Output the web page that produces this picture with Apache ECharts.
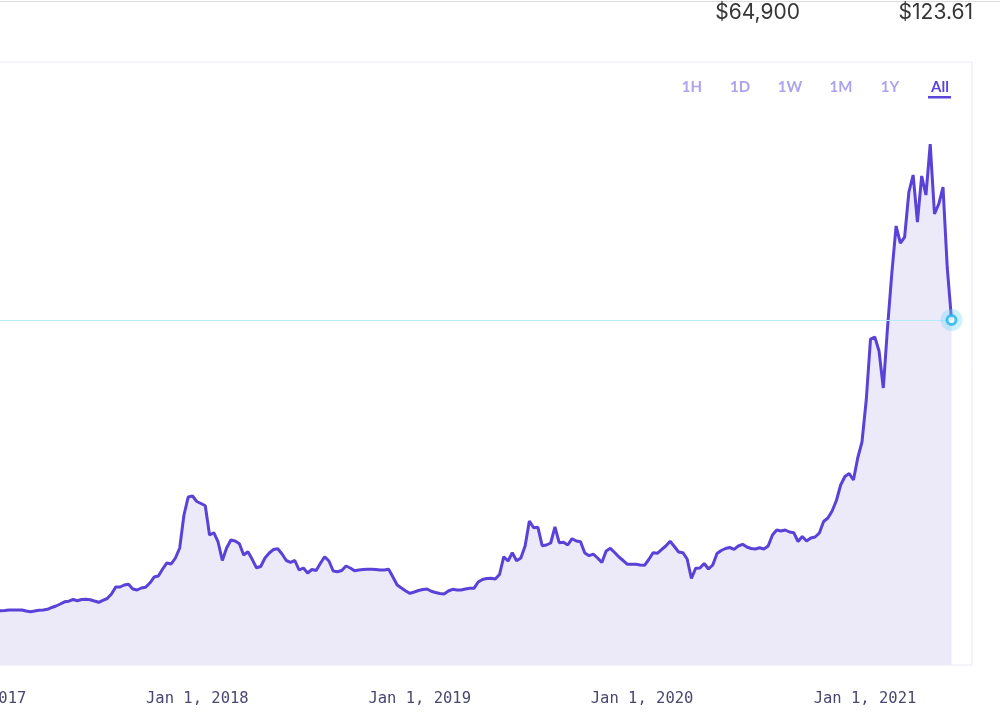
<!DOCTYPE html>
<html>
<head>
<meta charset="utf-8">
<title>Price chart</title>
<script src="https://cdn.jsdelivr.net/npm/echarts@6/dist/echarts.min.js"></script>
<style>
  html, body { margin: 0; padding: 0; background: #fff; overflow: hidden; }
  /* the chart starts left of the window, like the cropped screenshot */
  #chart { position: absolute; left: -60px; top: 0; width: 1060px; height: 727px; }
</style>
</head>
<body>
<div id="chart"></div>
<script>
// weekly closes, last week ends May 23, 2021
const lastWeek = "2021-05-23";
const prices = [
  19.34, 19.34, 19.70, 19.34, 19.70, 19.34, 19.70, 19.45, 19.52, 19.70,
  19.70, 19.70, 19.70, 19.34, 19.09, 19.34, 19.59, 19.70, 19.95, 20.60,
  21.13, 21.85, 22.64, 22.85, 23.46, 23.03, 23.46, 23.53, 23.39, 22.92,
  22.46, 23.18, 23.82, 25.43, 27.94, 27.94, 28.66, 28.91, 27.22, 26.87,
  27.58, 27.83, 29.37, 31.52, 31.88, 34.39, 36.54, 36.18, 38.33, 41.91,
  53.73, 60.18, 60.54, 58.57, 57.85, 57.06, 46.57, 47.39, 44.06, 37.43,
  41.91, 44.78, 44.42, 43.45, 39.40, 40.58, 37.86, 34.85, 35.28, 38.33,
  40.12, 41.37, 41.66, 39.76, 37.43, 36.79, 37.43, 34.03, 34.75, 32.95,
  34.21, 33.85, 36.43, 38.79, 37.25, 33.67, 33.42, 33.85, 35.46, 34.75,
  33.78, 34.03, 34.21, 34.28, 34.28, 34.21, 34.03, 34.03, 34.28, 31.52,
  28.66, 27.58, 26.51, 25.68, 26.15, 26.69, 27.04, 27.22, 26.40, 25.97,
  25.61, 25.43, 26.51, 27.12, 26.87, 26.87, 27.22, 27.47, 27.47, 29.73,
  30.63, 30.98, 31.06, 30.81, 32.42, 38.79, 37.25, 40.23, 37.36, 38.33,
  42.63, 51.58, 49.18, 49.32, 42.73, 42.98, 43.70, 49.43, 43.81, 43.95,
  42.98, 45.24, 44.42, 44.17, 40.12, 39.15, 39.69, 38.33, 36.72, 40.83,
  41.80, 40.30, 38.69, 37.43, 36.07, 36.07, 36.07, 35.82, 35.71, 37.79,
  40.23, 40.01, 41.37, 42.63, 44.31, 42.45, 40.48, 40.23, 37.97, 30.98,
  34.64, 34.75, 36.36, 34.39, 35.82, 39.94, 41.01, 41.73, 42.09, 41.44,
  42.63, 43.24, 42.27, 41.73, 41.55, 41.98, 41.55, 42.63, 46.57, 48.36,
  48.00, 48.36, 47.64, 47.39, 44.24, 46.03, 44.42, 45.49, 45.85, 47.28,
  51.40, 52.66, 55.16, 58.92, 64.48, 67.52, 68.60, 66.27, 74.15, 79.88,
  94.92, 116.77, 117.49, 112.47, 99.22, 121.07, 140.41, 157.25, 151.16, 153.31,
  169.43, 175.52, 158.68, 175.16, 168.35, 186.62, 161.55, 165.13, 171.22, 142.21,
  123.61
];
const tickDates = ["2017-01-01", "2018-01-01", "2019-01-01", "2020-01-01", "2021-01-01"];
const ranges = ["1H", "1D", "1W", "1M", "1Y", "All"];
const headerValues = ["$64,900", "$123.61"];

const DAY = 86400000;
const MONTHS = ["Jan", "Feb", "Mar", "Apr", "May", "Jun", "Jul", "Aug", "Sep", "Oct", "Nov", "Dec"];
const OFF = 60; // div is shifted 60px left

const toTs = d => Date.parse(d + "T00:00:00Z");
const endTs = toTs(lastWeek);
const seriesData = prices.map((v, i) => [endTs - (prices.length - 1 - i) * 7 * DAY, v]);
const last = seriesData[seriesData.length - 1];
const jan2021 = toTs("2021-01-01");
const xMin = jan2021 - 1492.2 * DAY;
const xMax = jan2021 + 175.6 * DAY;

const rangeX = [692, 740, 790, 841, 890, 940];

const graphics = [
  { type: "rect", shape: { x: 0, y: 1, width: 1060, height: 1 }, style: { fill: "#dcdcdc" } },
  {
    type: "text", x: 800 + OFF, y: 13,
    style: { text: headerValues[0], fill: "#363636", fontSize: 21, fontFamily: "Inter", align: "right", verticalAlign: "middle" }
  },
  {
    type: "text", x: 973 + OFF, y: 13,
    style: { text: headerValues[1], fill: "#363636", fontSize: 21, fontFamily: "Inter", align: "right", verticalAlign: "middle" }
  },
  { type: "rect", shape: { x: 928 + OFF, y: 96, width: 23, height: 2.5 }, style: { fill: "#5b44d9" } }
];
ranges.forEach((r, i) => {
  graphics.push({
    type: "text", x: rangeX[i] + OFF, y: 87,
    style: {
      text: r,
      fill: r === "All" ? "#5b44d9" : "#aca3ec",
      fontSize: 15, fontWeight: "bold", fontFamily: "Lato",
      align: "center", verticalAlign: "middle"
    }
  });
});

const chart = echarts.init(document.getElementById("chart"));
chart.setOption({
  animation: false,
  grid: {
    left: 16, right: 28, top: 62, bottom: 62,
    outerBoundsMode: "none",
    containLabel: false,
    show: true, borderColor: "#ebe9f6", borderWidth: 1, backgroundColor: "transparent"
  },
  xAxis: {
    type: "value",
    min: xMin,
    max: xMax,
    axisLine: { show: false },
    axisTick: { show: false },
    splitLine: { show: false },
    axisLabel: {
      customValues: tickDates.map(toTs),
      margin: 26,
      color: "#4a4872",
      fontSize: 15.5,
      fontFamily: "DejaVu Sans Mono",
      formatter(v) {
        const d = new Date(v);
        return `${MONTHS[d.getUTCMonth()]} ${d.getUTCDate()}, ${d.getUTCFullYear()}`;
      }
    }
  },
  yAxis: { type: "value", min: 0, max: 216, show: false },
  series: [
    {
      type: "line",
      data: seriesData,
      showSymbol: false,
      lineStyle: { color: "#5a41d8", width: 3 },
      itemStyle: { color: "#5a41d8" },
      areaStyle: { color: "#ece9f9", opacity: 1 },
      markLine: {
        silent: true,
        symbol: "none",
        label: { show: false },
        lineStyle: { color: "#b3ebf8", width: 1, type: "solid" },
        data: [[{ coord: [xMin, last[1]] }, { coord: [last[0], last[1]] }]]
      }
    },
    {
      type: "scatter",
      data: [last],
      symbolSize: 22,
      itemStyle: { color: "rgba(120, 214, 245, 0.45)" },
      z: 5
    },
    {
      type: "scatter",
      data: [last],
      symbolSize: 9,
      itemStyle: { color: "#fff", borderColor: "#1cb5e8", borderWidth: 3 },
      z: 6
    }
  ],
  graphic: graphics
});
</script>
</body>
</html>
